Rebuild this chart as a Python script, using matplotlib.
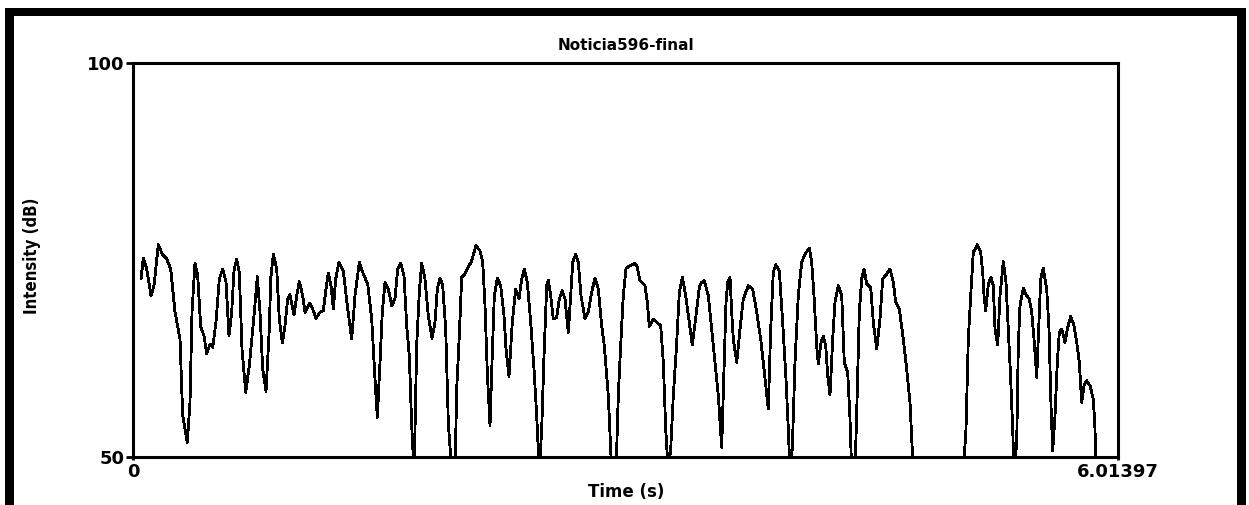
import matplotlib
matplotlib.use("Agg")
import matplotlib.pyplot as plt
from matplotlib.patches import Rectangle

# intensity contour (time in s, intensity in dB)
time_s = [
    0.0489, 0.0629, 0.0837, 0.1099, 0.1282, 0.1545, 0.1789, 0.2058, 0.2302, 0.2564,
    0.2870, 0.3034, 0.3315, 0.3480, 0.3602, 0.3785, 0.3950, 0.4133, 0.4335, 0.4500,
    0.4701, 0.4866, 0.5068, 0.5269, 0.5477, 0.5678, 0.5861, 0.6026, 0.6166, 0.6331,
    0.6490, 0.6655, 0.6881, 0.7101, 0.7388, 0.7589, 0.7754, 0.7919, 0.8120, 0.8322,
    0.8407, 0.8566, 0.8774, 0.8932, 0.9116, 0.9281, 0.9445, 0.9586, 0.9830, 0.9995,
    1.0154, 1.0361, 1.0502, 1.0807, 1.1008, 1.1173, 1.1418, 1.1619, 1.1784, 1.1924,
    1.2089, 1.2230, 1.2376, 1.2577, 1.2840, 1.3084, 1.3353, 1.3554, 1.3817, 1.4061,
    1.4330, 1.4574, 1.4775, 1.4916, 1.5081, 1.5221, 1.5386, 1.5587, 1.5795, 1.5996,
    1.6161, 1.6345, 1.6546, 1.6711, 1.6870, 1.7016, 1.7157, 1.7218, 1.7322, 1.7480,
    1.7627, 1.7828, 1.8030, 1.8256, 1.8439, 1.8580, 1.8744, 1.8909, 1.9092, 1.9251,
    1.9458, 1.9660, 1.9764, 1.9922, 2.0069, 2.0270, 2.0472, 2.0680, 2.0942, 2.1186,
    2.1351, 2.1492, 2.1632, 2.1797, 2.1919, 2.2060, 2.2243, 2.2450, 2.2652, 2.2774,
    2.2957, 2.3158, 2.3366, 2.3567, 2.3732, 2.3891, 2.4074, 2.4282, 2.4483, 2.4648,
    2.4807, 2.4953, 2.5094, 2.5259, 2.5356, 2.5503, 2.5661, 2.5869, 2.6028, 2.6211,
    2.6376, 2.6578, 2.6724, 2.6846, 2.7029, 2.7188, 2.7353, 2.7597, 2.7799, 2.8006,
    2.8208, 2.8409, 2.8617, 2.8775, 2.9020, 2.9227, 2.9490, 2.9630, 2.9795, 2.9935,
    3.0100, 3.0345, 3.0650, 3.0790, 3.0955, 3.1260, 3.1401, 3.1523, 3.1767, 3.1975,
    3.2219, 3.2378, 3.2524, 3.2683, 3.2830, 3.2989, 3.3197, 3.3355, 3.3539, 3.3746,
    3.3966, 3.4149, 3.4374, 3.4576, 3.4722, 3.4881, 3.5125, 3.5333, 3.5534, 3.5736,
    3.5943, 3.6041, 3.6206, 3.6309, 3.6450, 3.6554, 3.6651, 3.6859, 3.7061, 3.7262,
    3.7567, 3.7836, 3.8080, 3.8324, 3.8526, 3.8788, 3.8935, 3.9093, 3.9240, 3.9460,
    3.9667, 3.9869, 4.0009, 4.0113, 4.0253, 4.0418, 4.0620, 4.0827, 4.1029, 4.1291,
    4.1438, 4.1579, 4.1744, 4.1841, 4.2006, 4.2147, 4.2293, 4.2415, 4.2556, 4.2721,
    4.2861, 4.3063, 4.3270, 4.3429, 4.3637, 4.3777, 4.3881, 4.4082, 4.4186, 4.4345,
    4.4491, 4.4632, 4.4797, 4.5041, 4.5200, 4.5407, 4.5608, 4.5773, 4.6017, 4.6219,
    4.6420, 4.6567, 4.6787, 4.7031, 4.7238, 4.7440, 4.7641, 5.0695, 5.0859, 5.1000,
    5.1146, 5.1305, 5.1549, 5.1757, 5.1879, 5.1958, 5.2062, 5.2221, 5.2385, 5.2526,
    5.2630, 5.2794, 5.2935, 5.3137, 5.3301, 5.3442, 5.3588, 5.3710, 5.3790, 5.3955,
    5.4052, 5.4156, 5.4357, 5.4565, 5.4724, 5.4870, 5.5029, 5.5176, 5.5298, 5.5420,
    5.5579, 5.5786, 5.5927, 5.6049, 5.6153, 5.6293, 5.6434, 5.6556, 5.6702, 5.6904,
    5.7044, 5.7252, 5.7453, 5.7618, 5.7777, 5.7923, 5.8064, 5.8229, 5.8430, 5.8632,
    5.8736, 5.8797,
]
intensity_db = [
    72.53, 75.15, 73.80, 70.41, 71.68, 76.88, 75.70, 75.06, 73.80, 68.34,
    64.91, 55.18, 51.80, 56.92, 68.34, 74.56, 72.94, 66.43, 65.33, 63.01,
    64.27, 63.86, 67.07, 72.53, 73.80, 72.15, 65.33, 68.34, 73.58, 75.06,
    73.38, 63.64, 58.15, 61.52, 67.87, 72.82, 68.34, 61.11, 58.28, 66.18,
    72.53, 75.66, 73.80, 67.45, 64.40, 66.60, 69.99, 70.53, 67.96, 70.41,
    72.18, 70.41, 68.30, 69.48, 68.50, 67.54, 68.30, 68.50, 71.26, 73.29,
    71.68, 68.72, 72.53, 74.65, 73.58, 69.14, 64.91, 70.41, 74.65, 73.16,
    71.89, 67.45, 59.84, 54.98, 61.96, 68.30, 72.11, 71.26, 69.14, 69.99,
    73.80, 74.52, 72.94, 66.60, 62.79, 53.91, 48.00, 53.49, 64.27, 70.84,
    74.52, 72.53, 67.87, 65.00, 67.03, 71.26, 72.65, 71.68, 66.18, 54.34,
    48.00, 48.00, 58.57, 65.33, 72.74, 73.16, 74.01, 74.85, 76.75, 76.12,
    74.65, 69.14, 60.69, 53.91, 61.96, 70.41, 72.62, 71.68, 67.87, 63.64,
    60.18, 67.03, 71.26, 69.99, 72.53, 73.80, 72.11, 67.03, 61.11, 55.18,
    48.00, 53.49, 62.79, 71.68, 72.40, 70.41, 67.45, 67.67, 69.99, 71.04,
    69.99, 65.76, 70.41, 74.65, 75.70, 74.65, 70.41, 67.45, 68.30, 70.84,
    72.65, 71.26, 66.60, 64.06, 57.72, 48.00, 48.00, 57.72, 64.91, 70.41,
    73.88, 74.21, 74.52, 74.01, 72.31, 71.68, 69.57, 66.52, 67.45, 67.03,
    66.60, 61.96, 53.49, 48.00, 50.95, 57.72, 64.49, 70.84, 72.74, 70.41,
    67.03, 64.15, 67.87, 71.47, 72.11, 72.31, 70.41, 66.18, 61.96, 57.72,
    51.17, 58.15, 69.57, 72.11, 72.74, 68.30, 64.91, 61.96, 66.18, 69.99,
    71.68, 71.26, 68.30, 64.91, 61.11, 56.03, 66.18, 73.38, 74.34, 73.58,
    67.03, 59.84, 53.49, 48.00, 50.95, 61.96, 70.41, 74.65, 75.70, 76.42,
    74.65, 70.41, 64.06, 61.74, 64.49, 65.25, 64.06, 60.26, 57.81, 64.91,
    69.57, 71.68, 70.41, 61.96, 60.69, 54.76, 48.00, 48.00, 55.61, 68.30,
    72.53, 73.80, 71.89, 71.47, 67.03, 63.64, 67.45, 72.53, 73.16, 73.80,
    72.11, 69.57, 68.72, 64.91, 61.11, 56.88, 48.00, 48.00, 53.49, 64.91,
    70.41, 75.91, 76.88, 75.91, 73.38, 70.41, 68.50, 71.89, 72.74, 71.68,
    66.18, 64.15, 70.41, 74.72, 72.11, 66.18, 59.84, 53.49, 48.00, 51.80,
    64.06, 69.14, 71.35, 70.41, 69.99, 68.30, 64.49, 60.05, 66.18, 72.53,
    73.88, 71.26, 66.18, 56.45, 50.74, 55.18, 61.96, 65.76, 66.18, 64.49,
    66.18, 67.79, 66.60, 64.49, 61.96, 56.88, 58.99, 59.62, 58.99, 57.30,
    53.49, 48.00,
]

t_start, t_end = 0.0, 6.01397
db_min, db_max = 50, 100
title = "Noticia596-final"

W, H = 1249, 506
fig = plt.figure(figsize=(W / 100, H / 100), dpi=100)
fig.patch.set_facecolor("white")

# thick black frame (top, left, right)
for (x, y, w, h) in [(5, 9, 1241, 8), (5, 9, 9, 497), (1237, 9, 9, 497)]:
    fig.add_artist(Rectangle((x / W, 1 - (y + h) / H), w / W, h / H,
                             transform=fig.transFigure, color="black", lw=0))

ax = fig.add_axes([133 / W, 1 - 457.5 / H, 985 / W, 394 / H])
ax.plot(time_s, intensity_db, color="black", lw=1.3, antialiased=False)
ax.set_xlim(t_start, t_end)
ax.set_ylim(db_min, db_max)

for s in ax.spines.values():
    s.set_linewidth(2.2)

ax.set_xticks([t_start, t_end])
ax.set_xticklabels(["0", "6.01397"])
ax.set_yticks([db_min, db_max])
ax.set_yticklabels(["50", "100"])
ax.tick_params(axis="y", length=5, width=2, pad=1, labelsize=13)
ax.tick_params(axis="x", length=2, width=2, pad=2, labelsize=13)
for lab in ax.get_xticklabels() + ax.get_yticklabels():
    lab.set_fontweight("bold")

fig.text(626 / W, 1 - 46 / H, title, ha="center", va="center",
         fontsize=11, fontweight="bold")
fig.text(626 / W, 1 - 492 / H, "Time (s)", ha="center", va="center",
         fontsize=12, fontweight="bold")
fig.text(32 / W, 1 - 256 / H, "Intensity (dB)", ha="center", va="center",
         rotation=90, fontsize=12, fontweight="bold", fontstretch="condensed")

fig.savefig("out.png", dpi=100)
